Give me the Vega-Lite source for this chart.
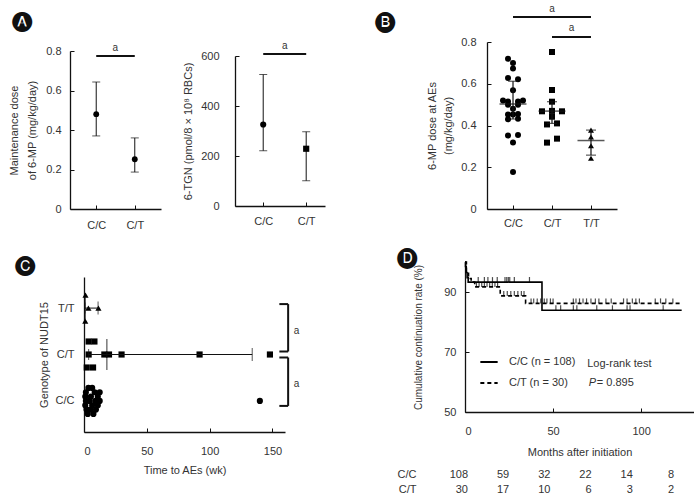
{
  "$schema": "https://vega.github.io/schema/vega-lite/v6.json",
  "padding": {"left": 8, "top": 3, "right": 0, "bottom": 0},
  "background": "white",
  "config": {
    "view": {"stroke": null},
    "font": "Liberation Sans",
    "axis": {"grid": false, "domainColor": "#111", "domainWidth": 1.3, "tickColor": "#111", "tickWidth": 1, "tickSize": -4, "labelColor": "#333", "titleColor": "#333", "labelFontSize": 11, "titleFontSize": 11, "titleFontWeight": "normal", "labelPadding": 13, "labelFont": "Liberation Sans", "titleFont": "Liberation Sans"},
    "title": {"font": "DejaVu Sans", "fontSize": 20, "color": "#111", "anchor": "start", "frame": "group", "fontWeight": "normal"}
  },
  "columns": 2,
  "align": "each",
  "bounds": "flush",
  "spacing": {"row": 53, "column": 140},
  "resolve": {"legend": {"strokeDash": "independent"}},
  "concat": [
    {
      "width": 255,
      "height": 167,
      "title": {"text": "🅐", "dx": -58, "offset": 10},
      "resolve": {"scale": {"x": "independent", "y": "independent", "shape": "independent"}},
      "layer": [
        {
          "layer": [
            {
              "data": {"values": [
                {"genotype": "C/C", "mean": 0.48, "lower": 0.37, "upper": 0.643},
                {"genotype": "C/T", "mean": 0.252, "lower": 0.187, "upper": 0.36}
              ]},
              "encoding": {
                "x": {"field": "genotype", "type": "nominal", "scale": {"type": "point", "padding": 0.68, "range": [0, 91], "domain": ["C/C", "C/T"]}, "axis": {"title": null, "labelAngle": 0, "orient": "bottom", "labelPadding": 14}}
              },
              "layer": [
                {"mark": {"type": "rule", "color": "#111", "strokeWidth": 1},
                 "encoding": {
                   "y": {"field": "lower", "type": "quantitative", "scale": {"domain": [0, 0.8], "range": [167, 9]}, "axis": {"orient": "left", "title": ["Maintenance dose", "of 6-MP (mg/kg/day)"], "values": [0, 0.2, 0.4, 0.6, 0.8], "format": "~g", "titlePadding": 8, "titleLineHeight": 18}},
                   "y2": {"field": "upper"}}},
                {"mark": {"type": "tick", "orient": "horizontal", "size": 8, "thickness": 1, "color": "#111"}, "encoding": {"y": {"field": "lower", "type": "quantitative"}}},
                {"mark": {"type": "tick", "orient": "horizontal", "size": 8, "thickness": 1, "color": "#111"}, "encoding": {"y": {"field": "upper", "type": "quantitative"}}},
                {"mark": {"type": "point", "shape": "circle", "filled": true, "opacity": 1, "size": 34, "color": "#000"}, "encoding": {"y": {"field": "mean", "type": "quantitative"}}}
              ]
            },
            {
              "data": {"values": [{"from": "C/C", "to": "C/T", "level": 0.775, "label": "a"}]},
              "encoding": {"x": {"field": "from", "type": "nominal"}, "y": {"field": "level", "type": "quantitative"}},
              "layer": [
                {"mark": {"type": "rule", "strokeWidth": 2, "color": "#111"}, "encoding": {"x2": {"field": "to"}}},
                {"mark": {"type": "text", "dx": 19, "dy": -3, "baseline": "bottom", "fontSize": 10, "color": "#333"}, "encoding": {"text": {"field": "label"}}}
              ]
            }
          ]
        },
        {
          "layer": [
            {
              "data": {"values": [
                {"genotype": "C/C", "mean": 326, "lower": 221, "upper": 526},
                {"genotype": "C/T", "mean": 229, "lower": 101, "upper": 297}
              ]},
              "encoding": {
                "x": {"field": "genotype", "type": "nominal", "scale": {"type": "point", "padding": 0.547, "align": 0.6, "range": [165, 255], "domain": ["C/C", "C/T"]}, "axis": {"title": null, "labelAngle": 0, "orient": "bottom", "offset": -3, "labelPadding": 13}}
              },
              "layer": [
                {"mark": {"type": "rule", "color": "#111", "strokeWidth": 1},
                 "encoding": {
                   "y": {"field": "lower", "type": "quantitative", "scale": {"domain": [0, 600], "range": [164, 14]}, "axis": {"orient": "left", "offset": -165, "title": "6-TGN (pmol/8 × 10⁸ RBCs)", "values": [0, 200, 400, 600], "labelPadding": 20, "titlePadding": 7}},
                   "y2": {"field": "upper"}}},
                {"mark": {"type": "tick", "orient": "horizontal", "size": 8, "thickness": 1, "color": "#111"}, "encoding": {"y": {"field": "lower", "type": "quantitative"}}},
                {"mark": {"type": "tick", "orient": "horizontal", "size": 8, "thickness": 1, "color": "#111"}, "encoding": {"y": {"field": "upper", "type": "quantitative"}}},
                {"mark": {"type": "point", "filled": true, "opacity": 1, "size": 38, "color": "#000"},
                 "encoding": {"y": {"field": "mean", "type": "quantitative"},
                   "shape": {"field": "genotype", "type": "nominal", "scale": {"domain": ["C/C", "C/T", "T/T"], "range": ["circle", "square", "triangle-up"]}, "legend": null}}}
              ]
            },
            {
              "data": {"values": [{"from": "C/C", "to": "C/T", "level": 608, "label": "a"}]},
              "encoding": {"x": {"field": "from", "type": "nominal"}, "y": {"field": "level", "type": "quantitative"}},
              "layer": [
                {"mark": {"type": "rule", "strokeWidth": 2, "color": "#111"}, "encoding": {"x2": {"field": "to"}}},
                {"mark": {"type": "text", "dx": 21.5, "dy": -3, "baseline": "bottom", "fontSize": 10, "color": "#333"}, "encoding": {"text": {"field": "label"}}}
              ]
            }
          ]
        }
      ]
    },
    {
      "width": 152,
      "height": 167,
      "title": {"text": "🅑", "dx": -90, "offset": -27},
      "layer": [
        {
          "data": {"values": [
            {"genotype": "C/C", "dose": 0.72, "lane": -1},
            {"genotype": "C/C", "dose": 0.70, "lane": 0},
            {"genotype": "C/C", "dose": 0.673, "lane": 0},
            {"genotype": "C/C", "dose": 0.628, "lane": -1},
            {"genotype": "C/C", "dose": 0.622, "lane": 1},
            {"genotype": "C/C", "dose": 0.569, "lane": 0},
            {"genotype": "C/C", "dose": 0.52, "lane": -2},
            {"genotype": "C/C", "dose": 0.515, "lane": -1},
            {"genotype": "C/C", "dose": 0.515, "lane": 1},
            {"genotype": "C/C", "dose": 0.52, "lane": 2},
            {"genotype": "C/C", "dose": 0.50, "lane": -1},
            {"genotype": "C/C", "dose": 0.50, "lane": 1},
            {"genotype": "C/C", "dose": 0.48, "lane": 0},
            {"genotype": "C/C", "dose": 0.453, "lane": -1},
            {"genotype": "C/C", "dose": 0.453, "lane": 0},
            {"genotype": "C/C", "dose": 0.455, "lane": 1},
            {"genotype": "C/C", "dose": 0.43, "lane": -1},
            {"genotype": "C/C", "dose": 0.432, "lane": 1},
            {"genotype": "C/C", "dose": 0.352, "lane": -1},
            {"genotype": "C/C", "dose": 0.355, "lane": 1},
            {"genotype": "C/C", "dose": 0.318, "lane": 0},
            {"genotype": "C/C", "dose": 0.177, "lane": 0},
            {"genotype": "C/T", "dose": 0.752, "lane": 0},
            {"genotype": "C/T", "dose": 0.57, "lane": 0},
            {"genotype": "C/T", "dose": 0.514, "lane": 0},
            {"genotype": "C/T", "dose": 0.468, "lane": -2},
            {"genotype": "C/T", "dose": 0.47, "lane": 0},
            {"genotype": "C/T", "dose": 0.468, "lane": 2},
            {"genotype": "C/T", "dose": 0.442, "lane": 0},
            {"genotype": "C/T", "dose": 0.405, "lane": -1},
            {"genotype": "C/T", "dose": 0.41, "lane": 1},
            {"genotype": "C/T", "dose": 0.318, "lane": -1},
            {"genotype": "C/T", "dose": 0.337, "lane": 1},
            {"genotype": "T/T", "dose": 0.378, "lane": 0},
            {"genotype": "T/T", "dose": 0.345, "lane": 0},
            {"genotype": "T/T", "dose": 0.303, "lane": 0},
            {"genotype": "T/T", "dose": 0.243, "lane": 0}
          ]},
          "mark": {"type": "point", "filled": true, "opacity": 1, "size": 36, "color": "#000"},
          "encoding": {
            "x": {"field": "genotype", "type": "nominal", "scale": {"type": "point", "padding": 0.667, "range": [22, 152], "domain": ["C/C", "C/T", "T/T"]}, "axis": {"title": null, "labelAngle": 0, "labelPadding": 12}},
            "xOffset": {"field": "lane", "type": "quantitative", "scale": {"domain": [-2, 2], "range": [-10, 10]}},
            "y": {"field": "dose", "type": "quantitative", "scale": {"domain": [0, 0.8]}, "axis": {"offset": -22, "title": ["6-MP dose at AEs", "(mg/kg/day)"], "values": [0, 0.2, 0.4, 0.6, 0.8], "format": "~g", "labelPadding": 15, "titlePadding": 7, "titleLineHeight": 16}},
            "shape": {"field": "genotype", "type": "nominal", "scale": {"domain": ["C/C", "C/T", "T/T"], "range": ["circle", "square", "triangle-up"]}, "legend": null}
          }
        },
        {
          "data": {"values": [
            {"genotype": "C/C", "median": 0.503, "lower": 0.431, "upper": 0.612},
            {"genotype": "C/T", "median": 0.469, "lower": 0.41, "upper": 0.514},
            {"genotype": "T/T", "median": 0.328, "lower": 0.258, "upper": 0.378}
          ]},
          "encoding": {"x": {"field": "genotype", "type": "nominal"}},
          "layer": [
            {"mark": {"type": "rule", "color": "#111", "strokeWidth": 1.2}, "encoding": {"y": {"field": "lower", "type": "quantitative"}, "y2": {"field": "upper"}}},
            {"mark": {"type": "tick", "orient": "horizontal", "size": 10, "thickness": 1.2, "color": "#111"}, "encoding": {"y": {"field": "lower", "type": "quantitative"}}},
            {"mark": {"type": "tick", "orient": "horizontal", "size": 10, "thickness": 1.2, "color": "#111"}, "encoding": {"y": {"field": "upper", "type": "quantitative"}}},
            {"mark": {"type": "tick", "orient": "horizontal", "size": 27, "thickness": 1.5, "color": "#111"}, "encoding": {"y": {"field": "median", "type": "quantitative"}}}
          ]
        },
        {
          "data": {"values": [{"from": "C/C", "to": "T/T", "level": 0.92}]},
          "encoding": {"x": {"field": "from", "type": "nominal"}, "x2": {"field": "to"}, "y": {"field": "level", "type": "quantitative"}},
          "mark": {"type": "rule", "strokeWidth": 2, "color": "#111"}
        },
        {
          "data": {"values": [{"from": "C/T", "to": "T/T", "level": 0.824}]},
          "encoding": {"x": {"field": "from", "type": "nominal"}, "x2": {"field": "to"}, "y": {"field": "level", "type": "quantitative"}},
          "mark": {"type": "rule", "strokeWidth": 2, "color": "#111"}
        },
        {
          "data": {"values": [{"over": "C/T", "level": 0.92, "label": "a"}]},
          "mark": {"type": "text", "dy": -3, "baseline": "bottom", "fontSize": 10, "color": "#333"},
          "encoding": {"x": {"field": "over", "type": "nominal"}, "y": {"field": "level", "type": "quantitative"}, "text": {"field": "label"}}
        },
        {
          "data": {"values": [{"over": "C/T", "level": 0.824, "label": "a"}]},
          "mark": {"type": "text", "dx": 19.5, "dy": -4, "baseline": "bottom", "fontSize": 10, "color": "#333"},
          "encoding": {"x": {"field": "over", "type": "nominal"}, "y": {"field": "level", "type": "quantitative"}, "text": {"field": "label"}}
        }
      ]
    },
    {
      "width": 255,
      "height": 170,
      "title": {"text": "🅒", "dx": -55, "offset": -13},
      "layer": [
        {
          "data": {"values": [
            {"genotype": "T/T", "weeks": 1.2, "lane": -3},
            {"genotype": "T/T", "weeks": 3.5, "lane": 0},
            {"genotype": "T/T", "weeks": 11.5, "lane": 0},
            {"genotype": "T/T", "weeks": 1, "lane": 3},
            {"genotype": "C/T", "weeks": 3.7, "lane": -3},
            {"genotype": "C/T", "weeks": 8.3, "lane": -3},
            {"genotype": "C/T", "weeks": 3.7, "lane": 0},
            {"genotype": "C/T", "weeks": 16.2, "lane": 0},
            {"genotype": "C/T", "weeks": 19.9, "lane": 0},
            {"genotype": "C/T", "weeks": 29.9, "lane": 0},
            {"genotype": "C/T", "weeks": 92, "lane": 0},
            {"genotype": "C/T", "weeks": 148, "lane": 0},
            {"genotype": "C/T", "weeks": 2.2, "lane": 3},
            {"genotype": "C/T", "weeks": 7.2, "lane": 3},
            {"genotype": "C/C", "weeks": 3.5, "lane": -3},
            {"genotype": "C/C", "weeks": 6.5, "lane": -3},
            {"genotype": "C/C", "weeks": 1.5, "lane": -2},
            {"genotype": "C/C", "weeks": 8.5, "lane": -2},
            {"genotype": "C/C", "weeks": 12.5, "lane": -2},
            {"genotype": "C/C", "weeks": 1, "lane": -1},
            {"genotype": "C/C", "weeks": 5.5, "lane": -1},
            {"genotype": "C/C", "weeks": 11, "lane": -1},
            {"genotype": "C/C", "weeks": 1.5, "lane": 0},
            {"genotype": "C/C", "weeks": 4.5, "lane": 0},
            {"genotype": "C/C", "weeks": 9, "lane": 0},
            {"genotype": "C/C", "weeks": 12.5, "lane": 0},
            {"genotype": "C/C", "weeks": 140, "lane": 0},
            {"genotype": "C/C", "weeks": 1, "lane": 1},
            {"genotype": "C/C", "weeks": 6.5, "lane": 1},
            {"genotype": "C/C", "weeks": 11, "lane": 1},
            {"genotype": "C/C", "weeks": 2, "lane": 2},
            {"genotype": "C/C", "weeks": 5, "lane": 2},
            {"genotype": "C/C", "weeks": 9.5, "lane": 2},
            {"genotype": "C/C", "weeks": 3, "lane": 3},
            {"genotype": "C/C", "weeks": 7.5, "lane": 3}
          ]},
          "mark": {"type": "point", "filled": true, "opacity": 1, "size": 38, "color": "#000"},
          "encoding": {
            "x": {"field": "weeks", "type": "quantitative", "scale": {"domain": [0, 150], "range": [14, 215]}, "axis": {"title": "Time to AEs (wk)", "values": [0, 50, 100, 150], "labelPadding": 17, "titlePadding": 8}},
            "y": {"field": "genotype", "type": "nominal", "scale": {"type": "point", "domain": ["T/T", "C/T", "C/C"], "range": [15, 170], "padding": 0.67}, "axis": {"title": "Genotype of NUDT15", "offset": -14, "ticks": false, "tickSize": 0, "labelPadding": 10, "titlePadding": 6}},
            "yOffset": {"field": "lane", "type": "quantitative", "scale": {"domain": [-3, 3], "range": [-13, 13]}},
            "shape": {"field": "genotype", "type": "nominal", "scale": {"domain": ["C/C", "C/T", "T/T"], "range": ["circle", "square", "triangle-up"]}, "legend": null}
          }
        },
        {
          "data": {"values": [
            {"genotype": "T/T", "median": 1, "lower": 0.8, "upper": 11.2},
            {"genotype": "C/T", "median": 18.2, "lower": 3.7, "upper": 133.9}
          ]},
          "encoding": {"y": {"field": "genotype", "type": "nominal"}},
          "layer": [
            {"mark": {"type": "rule", "color": "#111", "strokeWidth": 1}, "encoding": {"x": {"field": "lower", "type": "quantitative"}, "x2": {"field": "upper"}}},
            {"mark": {"type": "tick", "orient": "vertical", "size": 11, "thickness": 1, "color": "#111"}, "encoding": {"x": {"field": "lower", "type": "quantitative"}}},
            {"mark": {"type": "tick", "orient": "vertical", "size": 13, "thickness": 1, "color": "#111"}, "encoding": {"x": {"field": "upper", "type": "quantitative"}}},
            {"transform": [{"filter": "datum.genotype == 'T/T'"}], "mark": {"type": "tick", "orient": "vertical", "size": 22, "thickness": 1.2, "color": "#111"}, "encoding": {"x": {"field": "median", "type": "quantitative"}}},
            {"transform": [{"filter": "datum.genotype == 'C/T'"}], "mark": {"type": "tick", "orient": "vertical", "size": 31, "thickness": 1.2, "color": "#111"}, "encoding": {"x": {"field": "median", "type": "quantitative"}}}
          ]
        },
        {
          "data": {"values": [{"from": "T/T", "to": "C/T", "inner": 155.5, "outer": 162.5}]},
          "layer": [
            {"mark": {"type": "rule", "strokeWidth": 2, "color": "#111", "yOffset": -4, "y2Offset": -3}, "encoding": {"x": {"field": "outer", "type": "quantitative"}, "y": {"field": "from", "type": "nominal"}, "y2": {"field": "to"}}},
            {"mark": {"type": "rule", "strokeWidth": 2, "color": "#111", "yOffset": -4}, "encoding": {"x": {"field": "inner", "type": "quantitative"}, "x2": {"field": "outer"}, "y": {"field": "from", "type": "nominal"}}},
            {"mark": {"type": "rule", "strokeWidth": 2, "color": "#111", "yOffset": -3}, "encoding": {"x": {"field": "inner", "type": "quantitative"}, "x2": {"field": "outer"}, "y": {"field": "to", "type": "nominal"}}}
          ]
        },
        {
          "data": {"values": [{"from": "C/T", "to": "C/C", "inner": 155.5, "outer": 162.5}]},
          "layer": [
            {"mark": {"type": "rule", "strokeWidth": 2, "color": "#111", "yOffset": 3, "y2Offset": 5}, "encoding": {"x": {"field": "outer", "type": "quantitative"}, "y": {"field": "from", "type": "nominal"}, "y2": {"field": "to"}}},
            {"mark": {"type": "rule", "strokeWidth": 2, "color": "#111", "yOffset": 3}, "encoding": {"x": {"field": "inner", "type": "quantitative"}, "x2": {"field": "outer"}, "y": {"field": "from", "type": "nominal"}}},
            {"mark": {"type": "rule", "strokeWidth": 2, "color": "#111", "yOffset": 5}, "encoding": {"x": {"field": "inner", "type": "quantitative"}, "x2": {"field": "outer"}, "y": {"field": "to", "type": "nominal"}}}
          ]
        },
        {
          "data": {"values": [{"genotype": "T/T", "x": 167, "label": "a"}]},
          "mark": {"type": "text", "dy": 23, "align": "left", "fontSize": 10, "color": "#333"},
          "encoding": {"x": {"field": "x", "type": "quantitative"}, "y": {"field": "genotype", "type": "nominal"}, "text": {"field": "label"}}
        },
        {
          "data": {"values": [{"genotype": "C/T", "x": 167, "label": "a"}]},
          "mark": {"type": "text", "dy": 29, "align": "left", "fontSize": 10, "color": "#333"},
          "encoding": {"x": {"field": "x", "type": "quantitative"}, "y": {"field": "genotype", "type": "nominal"}, "text": {"field": "label"}}
        }
      ]
    },
    {
      "width": 229,
      "height": 150,
      "title": {"text": "🅓", "dx": -68, "offset": -8},
      "resolve": {"scale": {"x": "independent", "y": "independent"}},
      "layer": [
        {
          "layer": [
            {
              "data": {"values": [
                {"g": "C/C", "t": 0, "s": 100},
                {"g": "C/C", "t": 0.3, "s": 98.5},
                {"g": "C/C", "t": 0.7, "s": 96.5},
                {"g": "C/C", "t": 1.2, "s": 94.8},
                {"g": "C/C", "t": 1.8, "s": 93.3},
                {"g": "C/C", "t": 43.7, "s": 83.9},
                {"g": "C/C", "t": 123, "s": 83.9},
                {"g": "C/T", "t": 0, "s": 100},
                {"g": "C/T", "t": 0.8, "s": 96.7},
                {"g": "C/T", "t": 2, "s": 94.5},
                {"g": "C/T", "t": 3.5, "s": 93.3},
                {"g": "C/T", "t": 5.5, "s": 91.7},
                {"g": "C/T", "t": 20, "s": 88.7},
                {"g": "C/T", "t": 34.4, "s": 86.2},
                {"g": "C/T", "t": 123, "s": 86.2}
              ]},
              "mark": {"type": "line", "interpolate": "step-after", "color": "#000", "strokeWidth": 1.6},
              "encoding": {
                "x": {"field": "t", "type": "quantitative", "scale": {"domain": [0, 123]}, "axis": {"title": "Months after initiation", "values": [0, 50, 100], "labelPadding": 17, "titlePadding": 10}},
                "y": {"field": "s", "type": "quantitative", "scale": {"domain": [50, 100]}, "axis": {"orient": "left", "title": "Cumulative continuation rate (%)", "titleFontSize": 10, "values": [50, 60, 70, 80, 90, 100], "titlePadding": 20}},
                "strokeDash": {"field": "g", "type": "nominal", "scale": {"domain": ["C/C", "C/T"], "range": [[1, 0], [4, 3]]},
                  "legend": {"orient": "none", "legendX": 14, "legendY": 90, "title": null, "symbolType": "stroke", "symbolSize": 300, "symbolStrokeWidth": 1.8, "symbolStrokeColor": "#000", "labelFontSize": 11, "labelColor": "#333", "labelFont": "Liberation Sans", "rowPadding": 6, "labelOffset": 10, "labelExpr": "datum.label == 'C/C' ? 'C/C (n = 108)' : 'C/T (n = 30)'"}}
              }
            },
            {
              "data": {"values": [
                {"g": "C/C", "t": 7.5, "s": 93.3}, {"g": "C/C", "t": 11, "s": 93.3}, {"g": "C/C", "t": 13, "s": 93.3}, {"g": "C/C", "t": 15.6, "s": 93.3}, {"g": "C/C", "t": 18.3, "s": 93.3}, {"g": "C/C", "t": 22.7, "s": 93.3}, {"g": "C/C", "t": 23.7, "s": 93.3}, {"g": "C/C", "t": 24.6, "s": 93.3}, {"g": "C/C", "t": 25.4, "s": 93.3}, {"g": "C/C", "t": 28, "s": 93.3}, {"g": "C/C", "t": 36.6, "s": 93.3},
                {"g": "C/C", "t": 51.6, "s": 83.9}, {"g": "C/C", "t": 54.3, "s": 83.9}, {"g": "C/C", "t": 61.5, "s": 83.9}, {"g": "C/C", "t": 63.5, "s": 83.9}, {"g": "C/C", "t": 74.8, "s": 83.9}, {"g": "C/C", "t": 83.7, "s": 83.9}, {"g": "C/C", "t": 92, "s": 83.9}, {"g": "C/C", "t": 93.7, "s": 83.9}, {"g": "C/C", "t": 112.5, "s": 83.9},
                {"g": "C/T", "t": 6.5, "s": 91.7}, {"g": "C/T", "t": 8, "s": 91.7}, {"g": "C/T", "t": 9.5, "s": 91.7}, {"g": "C/T", "t": 11, "s": 91.7}, {"g": "C/T", "t": 12.5, "s": 91.7}, {"g": "C/T", "t": 14, "s": 91.7}, {"g": "C/T", "t": 15.5, "s": 91.7}, {"g": "C/T", "t": 17, "s": 91.7}, {"g": "C/T", "t": 18.5, "s": 91.7},
                {"g": "C/T", "t": 22, "s": 88.7}, {"g": "C/T", "t": 24, "s": 88.7}, {"g": "C/T", "t": 26, "s": 88.7}, {"g": "C/T", "t": 28, "s": 88.7}, {"g": "C/T", "t": 30, "s": 88.7}, {"g": "C/T", "t": 32, "s": 88.7}, {"g": "C/T", "t": 33.5, "s": 88.7},
                {"g": "C/T", "t": 37.5, "s": 86.2}, {"g": "C/T", "t": 39, "s": 86.2}, {"g": "C/T", "t": 41, "s": 86.2}, {"g": "C/T", "t": 43, "s": 86.2}, {"g": "C/T", "t": 45, "s": 86.2}, {"g": "C/T", "t": 46.5, "s": 86.2}, {"g": "C/T", "t": 48.5, "s": 86.2}, {"g": "C/T", "t": 50, "s": 86.2},
                {"g": "C/T", "t": 61.5, "s": 86.2}, {"g": "C/T", "t": 63, "s": 86.2}, {"g": "C/T", "t": 65, "s": 86.2}, {"g": "C/T", "t": 67, "s": 86.2}, {"g": "C/T", "t": 69, "s": 86.2}, {"g": "C/T", "t": 71.5, "s": 86.2}, {"g": "C/T", "t": 74, "s": 86.2}, {"g": "C/T", "t": 76, "s": 86.2}, {"g": "C/T", "t": 80, "s": 86.2}, {"g": "C/T", "t": 83, "s": 86.2},
                {"g": "C/T", "t": 90, "s": 86.2}, {"g": "C/T", "t": 92, "s": 86.2}, {"g": "C/T", "t": 95, "s": 86.2}, {"g": "C/T", "t": 97, "s": 86.2}, {"g": "C/T", "t": 99, "s": 86.2}, {"g": "C/T", "t": 108, "s": 86.2}, {"g": "C/T", "t": 111, "s": 86.2}, {"g": "C/T", "t": 114, "s": 86.2}, {"g": "C/T", "t": 118, "s": 86.2}
              ]},
              "mark": {"type": "tick", "orient": "vertical", "size": 5, "thickness": 1.2, "color": "#000", "yOffset": -2.5},
              "encoding": {"x": {"field": "t", "type": "quantitative"}, "y": {"field": "s", "type": "quantitative"}}
            },
            {
              "data": {"values": [{"t": 69.4, "s": 66.1, "label": "Log-rank test"}]},
              "mark": {"type": "text", "align": "left", "fontSize": 11, "color": "#333"},
              "encoding": {"x": {"field": "t", "type": "quantitative"}, "y": {"field": "s", "type": "quantitative"}, "text": {"field": "label"}}
            },
            {
              "data": {"values": [{"t": 70.3, "s": 59.8, "label": "P"}]},
              "mark": {"type": "text", "align": "left", "fontSize": 11, "fontStyle": "italic", "color": "#333"},
              "encoding": {"x": {"field": "t", "type": "quantitative"}, "y": {"field": "s", "type": "quantitative"}, "text": {"field": "label"}}
            },
            {
              "data": {"values": [{"t": 70.3, "s": 59.8, "label": "= 0.895"}]},
              "mark": {"type": "text", "align": "left", "dx": 8, "fontSize": 11, "color": "#333"},
              "encoding": {"x": {"field": "t", "type": "quantitative"}, "y": {"field": "s", "type": "quantitative"}, "text": {"field": "label"}}
            }
          ]
        },
        {
          "data": {"values": [
            {"genotype": "C/C", "interval": 1, "n": 108},
            {"genotype": "C/C", "interval": 2, "n": 59},
            {"genotype": "C/C", "interval": 3, "n": 32},
            {"genotype": "C/C", "interval": 4, "n": 22},
            {"genotype": "C/C", "interval": 5, "n": 14},
            {"genotype": "C/C", "interval": 6, "n": 8},
            {"genotype": "C/T", "interval": 1, "n": 30},
            {"genotype": "C/T", "interval": 2, "n": 17},
            {"genotype": "C/T", "interval": 3, "n": 10},
            {"genotype": "C/T", "interval": 4, "n": 6},
            {"genotype": "C/T", "interval": 5, "n": 3},
            {"genotype": "C/T", "interval": 6, "n": 2}
          ]},
          "mark": {"type": "text", "align": "right", "fontSize": 11, "color": "#333"},
          "encoding": {
            "x": {"field": "interval", "type": "ordinal", "scale": {"type": "point", "padding": 0, "range": [3, 209]}, "axis": null},
            "y": {"field": "genotype", "type": "nominal", "scale": {"type": "band", "domain": ["C/C", "C/T"], "range": [205, 235], "padding": 0}, "axis": {"orient": "left", "title": null, "domain": false, "ticks": false, "tickSize": 0, "labelPadding": 49}},
            "text": {"field": "n", "type": "quantitative"}
          }
        }
      ]
    }
  ]
}
